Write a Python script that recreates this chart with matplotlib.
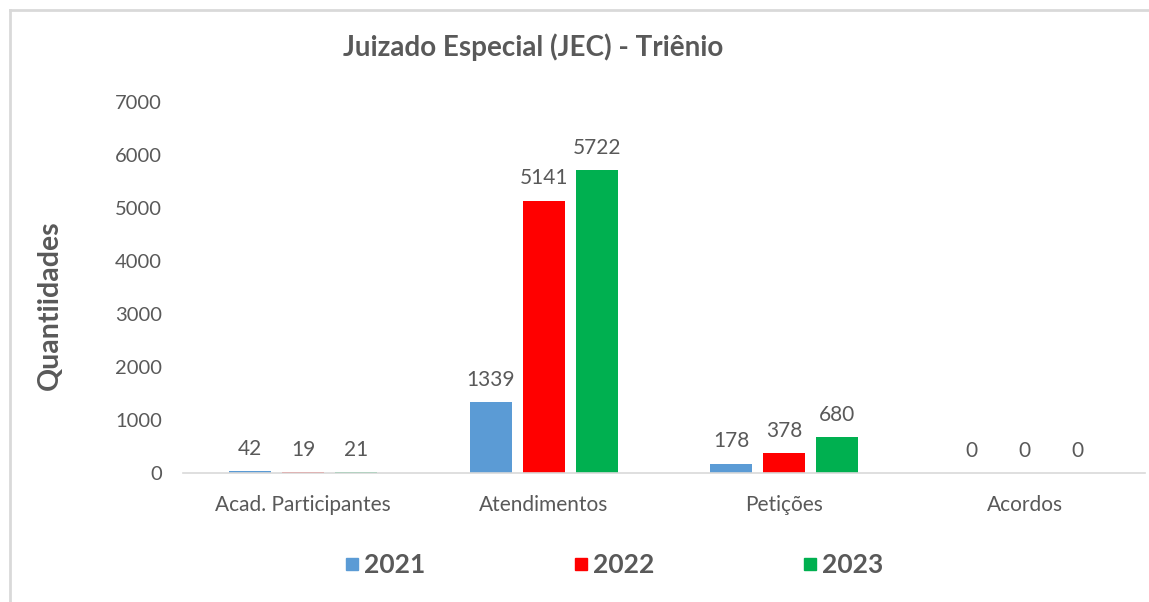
import matplotlib.pyplot as plt
import numpy as np
from matplotlib.lines import Line2D

CATEGORIES = ["Acad. Participantes", "Atendimentos", "Petições", "Acordos"]
YEARS = ["2021", "2022", "2023"]
VALUES_2021 = [42, 1339, 178, 0]
VALUES_2022 = [19, 5141, 378, 0]
VALUES_2023 = [21, 5722, 680, 0]
Y_TICKS = [0, 1000, 2000, 3000, 4000, 5000, 6000, 7000]

COLORS = ["#5B9BD5", "#FF0000", "#00B050"]
TEXT = "#595959"

plt.rcParams.update({"font.family": ["Lato", "DejaVu Sans"]})

fig = plt.figure(figsize=(11.49, 6.02), dpi=100)
ax = fig.add_axes([0.1593, 0.2143, 0.8373, 0.6163])

x = np.arange(len(CATEGORIES))
step = 0.22
width = 0.175
for i, (vals, color, year) in enumerate(zip((VALUES_2021, VALUES_2022, VALUES_2023), COLORS, YEARS)):
    pos = x + (i - 1) * step
    ax.bar(pos, vals, width=width, color=color, label=year)
    for xp, v in zip(pos, vals):
        ax.text(xp, v + 230, str(v), ha="center", va="bottom", fontsize=15, color=TEXT)

ax.set_xlim(-0.5, len(CATEGORIES) - 0.5)
ax.set_ylim(0, 7000)
ax.set_yticks(Y_TICKS)
ax.set_xticks(x)
ax.set_xticklabels(CATEGORIES, fontsize=15)
ax.tick_params(axis="both", length=0, labelcolor=TEXT)
ax.tick_params(axis="y", pad=15, labelsize=14.5)
ax.tick_params(axis="x", pad=16)
for s in ("top", "right", "left"):
    ax.spines[s].set_visible(False)
ax.spines["bottom"].set_color("#D9D9D9")
ax.spines["bottom"].set_linewidth(1.2)

fig.text(0.464, 0.922, "Juizado Especial (JEC) - Triênio", ha="center", va="center",
         fontsize=20, fontweight="bold", color=TEXT)
fig.text(0.043, 0.493, "Quantiidades", ha="center", va="center", rotation=90,
         fontsize=20.5, fontweight="bold", color=TEXT)

handles = [Line2D([], [], marker="s", linestyle="none", markersize=9, color=c) for c in COLORS]
fig.legend(handles, YEARS, loc="center", bbox_to_anchor=(0.534, 0.061), ncol=3, frameon=False,
           columnspacing=5.6, handlelength=0.6, handletextpad=0.15, prop={"weight": "bold", "size": 19},
           labelcolor=TEXT)

# light border of the chart area
fig.add_artist(Line2D([0.0087, 0.0087], [0, 0.9834], color="#D9D9D9", linewidth=2, transform=fig.transFigure))
fig.add_artist(Line2D([0.0087, 1], [0.9834, 0.9834], color="#D9D9D9", linewidth=2, transform=fig.transFigure))

fig.savefig("out.png", dpi=100)
